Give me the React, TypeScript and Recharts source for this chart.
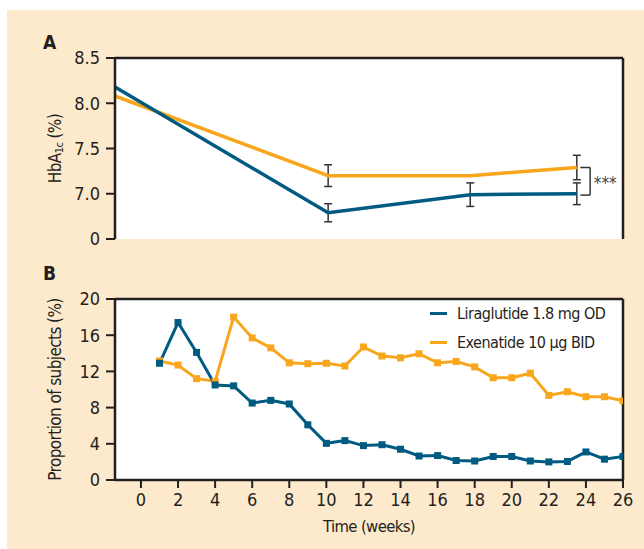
import { Legend, Line, LineChart, ErrorBar, ReferenceDot, ReferenceLine, XAxis, YAxis } from "recharts";

const FONT = "'Liberation Sans Narrow', 'DejaVu Sans Condensed', sans-serif";
const INK = "#231f20";
const BLUE = "#005b80";
const ORANGE = "#f8a61c";
const BEIGE = "#fde9cc";

const LIRA_NAME = "Liraglutide 1.8 mg OD";
const EXEN_NAME = "Exenatide 10 µg BID";

// panel A - HbA1c
const hbaWeeks = [0, 12, 20, 26];
const hbaLira = [8.18, 6.79, 6.99, 7.0];
const hbaExen = [8.08, 7.2, 7.2, 7.29];
const hbaLiraErr = [null, 0.1, 0.13, 0.12];
const hbaExenErr = [null, 0.12, null, 0.135];
const hbaTicks = [6.5, 7, 7.5, 8, 8.5];

// panel B - proportion of subjects
const weeks = [1, 2, 3, 4, 5, 6, 7, 8, 9, 10, 11, 12, 13, 14, 15, 16, 17, 18, 19, 20, 21, 22, 23, 24, 25, 26];
const liraPct = [12.9, 17.4, 14.1, 10.5, 10.4, 8.5, 8.8, 8.4, 6.1, 4.05, 4.35, 3.8, 3.9, 3.4, 2.65, 2.7, 2.15, 2.1, 2.6, 2.6, 2.1, 2.0, 2.05, 3.1, 2.3, 2.6];
const exenPct = [13.15, 12.7, 11.2, 10.9, 18.0, 15.7, 14.6, 12.95, 12.85, 12.9, 12.6, 14.7, 13.7, 13.5, 13.95, 12.95, 13.1, 12.5, 11.3, 11.3, 11.8, 9.35, 9.75, 9.2, 9.2, 8.75];
const weekTicks = [0, 2, 4, 6, 8, 10, 12, 14, 16, 18, 20, 22, 24, 26];
const pctTicks = [0, 4, 8, 12, 16, 20];

const hbaData = hbaWeeks.map((w, i) => ({ week: w, lira: hbaLira[i], exen: hbaExen[i], liraErr: hbaLiraErr[i], exenErr: hbaExenErr[i] }));
const pctData = weeks.map((w, i) => ({ week: w, lira: liraPct[i], exen: exenPct[i] }));

const tickStyle = { fill: INK, fontSize: 18, fontFamily: FONT };
const axisLine = { stroke: INK, strokeWidth: 2.5 };
const tickLine = { stroke: INK, strokeWidth: 2 };

const square = (color: string) => (props: any) => {
  const { cx, cy, index } = props;
  if (cx == null || cy == null) return <g key={index} />;
  return <rect key={index} x={cx - 3.5} y={cy - 3.5} width={7} height={7} fill={color} />;
};

function HbaLabel(props: any) {
  const vb = props.viewBox || {};
  const cx = vb.x + 38;
  const cy = vb.y + vb.height / 2;
  return (
    <text x={cx} y={cy} transform={`rotate(-90 ${cx} ${cy})`} textAnchor="middle" dominantBaseline="central" fill={INK} fontSize={17} letterSpacing={-0.6} fontFamily={FONT}>
      HbA<tspan fontSize={11} dy={4}>1c</tspan><tspan dy={-4}> (%)</tspan>
    </text>
  );
}

function PropLabel(props: any) {
  const vb = props.viewBox || {};
  const cx = vb.x + 38;
  const cy = vb.y + vb.height / 2;
  return (
    <text x={cx} y={cy} transform={`rotate(-90 ${cx} ${cy})`} textAnchor="middle" dominantBaseline="central" fill={INK} fontSize={17} letterSpacing={-0.6} fontFamily={FONT}>
      Proportion of subjects (%)
    </text>
  );
}

function LegendBox() {
  const rows = [
    { name: LIRA_NAME, color: BLUE },
    { name: EXEN_NAME, color: ORANGE },
  ];
  return (
    <div style={{ fontFamily: FONT, fontSize: 16, letterSpacing: -0.5, color: INK, whiteSpace: "nowrap" }}>
      {rows.map((r) => (
        <div key={r.name} style={{ display: "flex", alignItems: "center", height: 29 }}>
          <span style={{ display: "inline-block", width: 17, height: 3, background: r.color, marginRight: 10 }} />
          <span>{r.name}</span>
        </div>
      ))}
    </div>
  );
}

export default function App() {
  return (
    <div style={{ position: "absolute", left: 7, top: 10, width: 637, height: 539, background: BEIGE, fontFamily: FONT }}>
      <div style={{ position: "absolute", left: 36, top: 23, fontSize: 19, lineHeight: "19px", fontWeight: "bold", color: INK }}>A</div>
      <div style={{ position: "absolute", left: 36, top: 254, fontSize: 19, lineHeight: "19px", fontWeight: "bold", color: INK }}>B</div>

      <div style={{ position: "absolute", left: 0, top: 0 }}>
        <LineChart width={637} height={260} data={hbaData} margin={{ top: 48, right: 21, bottom: 31, left: 10 }}>
          <rect x={108} y={48} width={508} height={181} fill="#ffffff" />
          <XAxis dataKey="week" type="number" domain={[0, 28.6]} tick={false} tickLine={false} axisLine={axisLine} height={0} />
          <YAxis
            type="number"
            domain={[6.5, 8.5]}
            ticks={hbaTicks}
            allowDataOverflow
            interval={0}
            tickFormatter={(v: number) => (v === 6.5 ? "0" : v.toFixed(1))}
            tick={tickStyle}
            tickSize={9}
            tickMargin={6}
            axisLine={axisLine}
            tickLine={tickLine}
            width={98}
            label={<HbaLabel />}
          />
          <ReferenceLine y={8.5} stroke={INK} strokeWidth={2.5} ifOverflow="visible" />
          <ReferenceLine x={28.6} stroke={INK} strokeWidth={2.5} ifOverflow="visible" />
          <Line dataKey="exen" stroke={ORANGE} strokeWidth={3.5} dot={false} isAnimationActive={false}>
            <ErrorBar dataKey="exenErr" width={4} stroke="#333" strokeWidth={1.5} direction="y" />
          </Line>
          <Line dataKey="lira" stroke={BLUE} strokeWidth={3.5} dot={false} isAnimationActive={false}>
            <ErrorBar dataKey="liraErr" width={4} stroke="#333" strokeWidth={1.5} direction="y" />
          </Line>
          <ReferenceLine segment={[{ x: 26.2, y: 7.29 }, { x: 26.75, y: 7.29 }]} stroke="#333" strokeWidth={1.5} ifOverflow="visible" />
          <ReferenceLine segment={[{ x: 26.75, y: 7.29 }, { x: 26.75, y: 6.985 }]} stroke="#333" strokeWidth={1.5} ifOverflow="visible" />
          <ReferenceLine segment={[{ x: 26.2, y: 6.985 }, { x: 26.75, y: 6.985 }]} stroke="#333" strokeWidth={1.5} ifOverflow="visible" />
          <ReferenceDot x={27.6} y={7.12} r={0} fill="none" stroke="none" ifOverflow="visible" label={{ value: "***", position: "center", fill: "#444", fontSize: 17, fontFamily: FONT }} />
        </LineChart>
      </div>

      <div style={{ position: "absolute", left: 0, top: 250 }}>
        <LineChart width={637} height={279} data={pctData} margin={{ top: 39, right: 21, bottom: 7, left: 10 }}>
          <rect x={108} y={39} width={508} height={181} fill="#ffffff" />
          <XAxis
            dataKey="week"
            type="number"
            domain={[-1.4, 26]}
            ticks={weekTicks}
            interval={0}
            allowDataOverflow
            tick={tickStyle}
            tickSize={8}
            tickMargin={5}
            axisLine={axisLine}
            tickLine={tickLine}
            height={52}
            label={{ value: "Time (weeks)", position: "insideBottom", offset: 0, fill: INK, fontSize: 16.5, letterSpacing: -0.6, fontFamily: FONT }}
          />
          <YAxis
            type="number"
            domain={[0, 20]}
            ticks={pctTicks}
            interval={0}
            tick={tickStyle}
            tickSize={9}
            tickMargin={6}
            axisLine={axisLine}
            tickLine={tickLine}
            width={98}
            label={<PropLabel />}
          />
          <ReferenceLine y={20} stroke={INK} strokeWidth={2.5} ifOverflow="visible" />
          <ReferenceLine x={26} stroke={INK} strokeWidth={2.5} ifOverflow="visible" />
          <Legend layout="horizontal" verticalAlign="middle" align="center" wrapperStyle={{ left: 423, top: 39, width: "auto" }} content={() => <LegendBox />} />
          <Line name={EXEN_NAME} dataKey="exen" stroke={ORANGE} strokeWidth={3} dot={square(ORANGE)} isAnimationActive={false} />
          <Line name={LIRA_NAME} dataKey="lira" stroke={BLUE} strokeWidth={3} dot={square(BLUE)} isAnimationActive={false} />
        </LineChart>
      </div>
    </div>
  );
}
